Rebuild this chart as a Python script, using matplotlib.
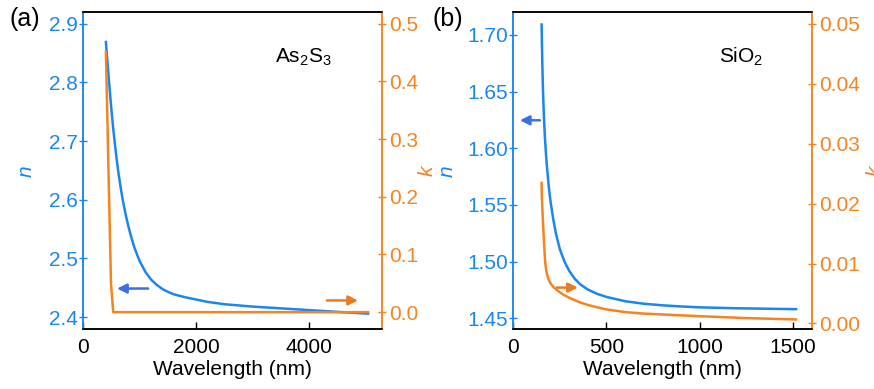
import matplotlib
matplotlib.use("Agg")
import matplotlib.pyplot as plt

plt.rcParams['font.family'] = ['Liberation Sans', 'DejaVu Sans']
plt.rcParams['mathtext.fontset'] = 'custom'
plt.rcParams['mathtext.rm'] = 'Liberation Sans'
plt.rcParams['mathtext.it'] = 'Liberation Sans:italic'

BLUE = '#1a86f0'
ORANGE = '#f5841f'

# (a) As2S3
wl_n_a = [400, 425, 450, 475, 500, 525, 550, 575, 600, 625, 650, 675, 700,
          750, 800, 850, 900, 950, 1000, 1100, 1200, 1300, 1400, 1500, 1600,
          1800, 2000, 2200, 2500, 3000, 3500, 4000, 4500, 5040]
n_a = [2.869, 2.838, 2.808, 2.779, 2.751, 2.726, 2.703, 2.682, 2.662, 2.644,
       2.628, 2.613, 2.599, 2.575, 2.554, 2.536, 2.520, 2.507, 2.495, 2.477,
       2.464, 2.455, 2.448, 2.443, 2.439, 2.434, 2.430, 2.426, 2.422, 2.418,
       2.415, 2.412, 2.409, 2.406]
wl_k_a = [400, 490, 530, 5040]
k_a = [0.451, 0.050, 0.0, 0.0]

# (b) SiO2
wl_n_b = [152, 154, 156, 158, 160, 163, 166, 170, 175, 180, 190, 200, 215,
          230, 250, 275, 300, 330, 360, 400, 450, 500, 600, 700, 800, 900,
          1000, 1200, 1518]
n_b = [1.709, 1.690, 1.674, 1.660, 1.648, 1.634, 1.622, 1.609, 1.596, 1.585,
       1.567, 1.553, 1.537, 1.524, 1.511, 1.500, 1.492, 1.485, 1.480, 1.4755,
       1.4717, 1.469, 1.4652, 1.4630, 1.4616, 1.4606, 1.4598, 1.4590, 1.4582]
wl_k_b = [152, 152.5, 153, 155, 157, 160, 164, 168, 172, 177, 183, 190, 200,
          215, 230, 250, 275, 300, 330, 360, 400, 450, 500, 600, 700, 800,
          1000, 1250, 1518]
k_b = [0.02345, 0.0225, 0.0215, 0.0200, 0.0185, 0.0165, 0.0140, 0.0118,
       0.0100, 0.0088, 0.0080, 0.0073, 0.0067, 0.0061, 0.0057, 0.0052,
       0.0047, 0.0043, 0.0039, 0.0035, 0.0031, 0.0027, 0.00235, 0.0019,
       0.00165, 0.0015, 0.00122, 0.0009, 0.00067]

panels = [
    dict(tag='(a)', tag_x=0.028, left=0.0953, wl_n=wl_n_a, n=n_a, wl_k=wl_k_a, k=k_a,
         xlim=(0, 5290), xticks=[0, 2000, 4000],
         nlim=(2.379, 2.92), nticks=[2.4, 2.5, 2.6, 2.7, 2.8, 2.9], nfmt='%.1f',
         klim=(-0.03, 0.52), kticks=[0.0, 0.1, 0.2, 0.3, 0.4, 0.5], kfmt='%.1f',
         name=r'As$_{2}$S$_{3}$', name_xy=(0.735, 0.858),
         n_lab=-0.158, k_lab=1.12,
         arr_n=((0.217, 0.129), (0.113, 0.129)),
         arr_k=((0.815, 0.0915), (0.919, 0.0915))),
    dict(tag='(b)', tag_x=0.5126, left=0.5873, wl_n=wl_n_b, n=n_b, wl_k=wl_k_b, k=k_b,
         xlim=(0, 1605), xticks=[0, 500, 1000, 1500],
         nlim=(1.4403, 1.720), nticks=[1.45, 1.50, 1.55, 1.60, 1.65, 1.70], nfmt='%.2f',
         klim=(-0.001, 0.05195), kticks=[0.0, 0.01, 0.02, 0.03, 0.04, 0.05], kfmt='%.2f',
         name=r'SiO$_{2}$', name_xy=(0.764, 0.860),
         n_lab=-0.188, k_lab=1.179,
         arr_n=((0.089, 0.659), (0.022, 0.659)),
         arr_k=((0.146, 0.132), (0.216, 0.132))),
]

fig = plt.figure(figsize=(8.74, 3.89), dpi=100)

for p in panels:
    ax = fig.add_axes([p['left'], 0.153, 0.342, 0.816])
    ax2 = ax.twinx()

    ax.plot(p['wl_n'], p['n'], color=BLUE, lw=1.8, zorder=3)
    ax2.plot(p['wl_k'], p['k'], color=ORANGE, lw=1.8)

    ax.set_xlim(*p['xlim'])
    ax.set_xticks(p['xticks'])
    ax.set_ylim(*p['nlim'])
    ax.set_yticks(p['nticks'])
    ax.yaxis.set_major_formatter(matplotlib.ticker.FormatStrFormatter(p['nfmt']))
    ax2.set_ylim(*p['klim'])
    ax2.set_yticks(p['kticks'])
    ax2.yaxis.set_major_formatter(matplotlib.ticker.FormatStrFormatter(p['kfmt']))

    ax.tick_params(axis='x', direction='in', length=5, width=1, labelsize=15, pad=6)
    ax.tick_params(axis='y', direction='inout', length=6, width=1, labelsize=15,
                   colors=BLUE, pad=1)
    ax2.tick_params(axis='y', direction='inout', length=6, width=1, labelsize=15,
                    colors=ORANGE, pad=2)

    for a in (ax, ax2):
        a.spines['left'].set_color(BLUE)
        a.spines['right'].set_color(ORANGE)
        a.spines['top'].set_color('black')
        a.spines['bottom'].set_color('black')
        for s in a.spines.values():
            s.set_linewidth(1.1)

    ax.set_xlabel('Wavelength (nm)', fontsize=15, labelpad=2)
    ax.set_ylabel('n', fontsize=15, style='italic', color=BLUE)
    ax.yaxis.set_label_coords(p['n_lab'], 0.5)
    ax2.set_ylabel('k', fontsize=15, style='italic', color=ORANGE)
    ax2.yaxis.set_label_coords(p['k_lab'], 0.5)

    ax.text(p['name_xy'][0], p['name_xy'][1], p['name'], transform=ax.transAxes,
            fontsize=15, ha='center', va='center')

    ax2.annotate('', xy=p['arr_n'][1], xytext=p['arr_n'][0], xycoords='axes fraction',
                 arrowprops=dict(arrowstyle='-|>', color='#3b6fe3', lw=1.8,
                                 mutation_scale=14, shrinkA=0, shrinkB=0))
    ax2.annotate('', xy=p['arr_k'][1], xytext=p['arr_k'][0], xycoords='axes fraction',
                 arrowprops=dict(arrowstyle='-|>', color='#ec7a1e', lw=1.8,
                                 mutation_scale=14, shrinkA=0, shrinkB=0))

    fig.text(p['tag_x'], 0.952, p['tag'], fontsize=18, ha='center', va='center')

fig.savefig('out.png', dpi=100)
